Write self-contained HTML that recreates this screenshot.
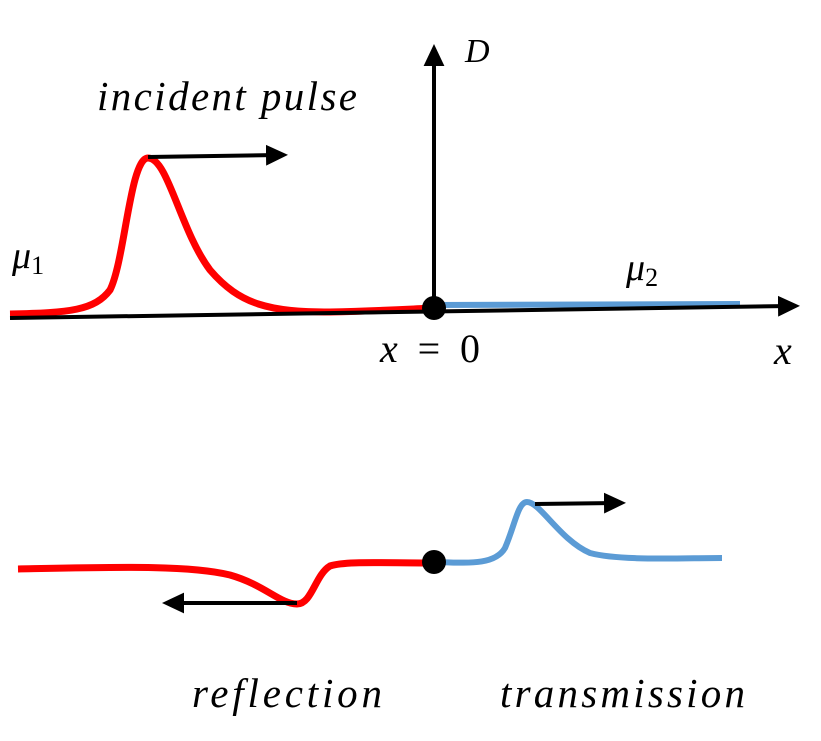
<!DOCTYPE html>
<html><head><meta charset="utf-8"><style>
html,body{margin:0;padding:0;background:#fff;}
svg{display:block;}
text{font-family:"Liberation Serif","DejaVu Serif",serif;font-style:italic;fill:#000;}
</style></head><body>
<svg width="821" height="741" viewBox="0 0 821 741" xmlns="http://www.w3.org/2000/svg">
<defs>
<marker id="ah" markerWidth="7" markerHeight="7" refX="3" refY="3" orient="auto" markerUnits="strokeWidth">
<path d="M0,0.4 L5.5,3 L0,5.6 Z" fill="#000"/></marker>
</defs>
<path d="M10,314 C70,313 95,310 110,290 C125,260 130,158 148,158 C168,158 180,230 210,270 C240,305 270,312 330,312 C380,311 410,309 434,308" fill="none" stroke="#f00" stroke-width="7"/>
<line x1="434" y1="305" x2="740" y2="304" stroke="#5b9bd5" stroke-width="6"/>
<line x1="10" y1="318" x2="790" y2="306" stroke="#000" stroke-width="4" marker-end="url(#ah)"/>
<line x1="434" y1="308" x2="434" y2="54" stroke="#000" stroke-width="4" marker-end="url(#ah)"/>
<line x1="148" y1="157" x2="278" y2="155" stroke="#000" stroke-width="4" marker-end="url(#ah)"/>
<circle cx="434" cy="308" r="12" fill="#000"/>
<text x="97" y="110" font-size="41" textLength="260" lengthAdjust="spacing">incident pulse</text>
<text x="465" y="62" font-size="34">D</text>
<text x="12" y="268" font-size="38">μ<tspan font-size="26" dy="6" font-style="normal">1</tspan></text>
<text x="626" y="280" font-size="38">μ<tspan font-size="26" dy="6" font-style="normal">2</tspan></text>
<text x="380" y="362" font-size="40" textLength="100" lengthAdjust="spacing">x <tspan font-style="normal">= 0</tspan></text>
<text x="774" y="364" font-size="40">x</text>
<path d="M18,569 C120,567 190,565 230,575 C265,585 280,604 297,604 C312,604 315,575 330,566 C345,561 380,563 434,563" fill="none" stroke="#f00" stroke-width="7"/>
<path d="M434,562 C470,563 495,565 505,548 C515,525 518,502 527,502 C540,502 560,540 590,553 C620,561 680,558 722,558" fill="none" stroke="#5b9bd5" stroke-width="6"/>
<circle cx="434" cy="562" r="12" fill="#000"/>
<line x1="535" y1="504" x2="616" y2="503" stroke="#000" stroke-width="4" marker-end="url(#ah)"/>
<line x1="297" y1="603" x2="172" y2="603" stroke="#000" stroke-width="4" marker-end="url(#ah)"/>
<text x="192" y="707" font-size="41" textLength="190" lengthAdjust="spacing">reflection</text>
<text x="500" y="707" font-size="41" textLength="245" lengthAdjust="spacing">transmission</text>
</svg>
</body></html>
